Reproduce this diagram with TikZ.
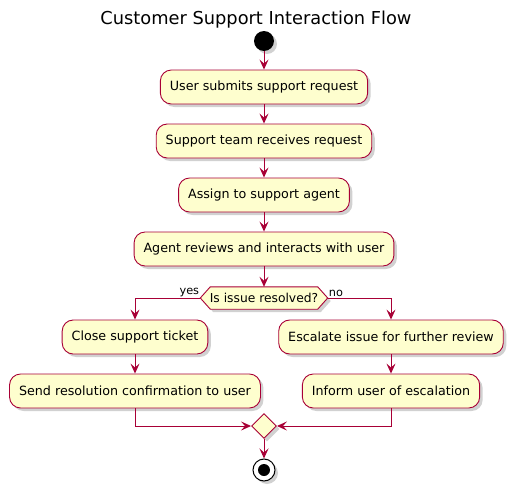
\documentclass[tikz,border=0pt]{standalone}
\usepackage{fontspec}
\setmainfont{DejaVu Sans}
\usetikzlibrary{shapes.geometric,shadows,arrows.meta}
\definecolor{pumlred}{HTML}{A80036}
\definecolor{pumlfill}{HTML}{FEFECE}
\pgfdeclarelayer{bg}
\pgfsetlayers{bg,main}
\tikzset{
  shad/.style={drop shadow={shadow xshift=3pt,shadow yshift=-3pt,opacity=0.3,fill=black!60}},
  actbox/.style={draw=pumlred,fill=pumlfill,line width=0.9pt,rounded corners=11pt,
    minimum height=34pt,inner xsep=9.5pt,font=\fontsize{12.7}{15}\selectfont,shad},
  arr/.style={draw=pumlred,line width=0.9pt,-{Stealth[length=10pt,width=9pt,inset=4pt]}},
  lbl/.style={font=\fontsize{11.3}{13}\selectfont,inner sep=1pt},
}
\begin{document}
\begin{tikzpicture}[x=1pt,y=-1pt]
\useasboundingbox (0,0) rectangle (512,490);
\node[font=\fontsize{17.8}{21}\selectfont] (title) at (256,20) {Customer Support Interaction Flow};
\node[circle,fill=black,minimum size=20pt,inner sep=0,shad] (start) at (264,41) {};
\node[actbox] (b1) at (264,87) {User submits support request};
\node[actbox] (b2) at (264,141) {Support team receives request};
\node[actbox] (b3) at (264,195) {Assign to support agent};
\node[actbox] (b4) at (264,249) {Agent reviews and interacts with user};
\node[minimum width=127pt,minimum height=22pt,inner sep=0,font=\fontsize{12.3}{14}\selectfont] (dec) at (264,298) {Is issue resolved?};
\begin{pgfonlayer}{bg}
\path[draw=pumlred,fill=pumlfill,line width=0.9pt,shad] (dec.west) -- ([xshift=10pt]dec.north west) -- ([xshift=-10pt]dec.north east) -- (dec.east) -- ([xshift=-10pt]dec.south east) -- ([xshift=10pt]dec.south west) -- cycle;
\end{pgfonlayer}
\node[actbox] (c1) at (135,337) {Close support ticket};
\node[actbox] (c2) at (135,391) {Send resolution confirmation to user};
\node[actbox] (e1) at (391,337) {Escalate issue for further review};
\node[actbox] (e2) at (391,391) {Inform user of escalation};
\node[diamond,draw=pumlred,fill=pumlfill,line width=0.9pt,minimum size=25pt,inner sep=0,shad] (m) at (264,426) {};
\node[circle,draw=black,fill=white,line width=1pt,minimum size=22pt,inner sep=0,shad] (stop) at (264,470) {};
\node[circle,fill=black,minimum size=12pt,inner sep=0] (stopin) at (264,470) {};
\draw[arr] (start) -- (b1);
\draw[arr] (b1) -- (b2);
\draw[arr] (b2) -- (b3);
\draw[arr] (b3) -- (b4);
\draw[arr] (b4) -- (dec.north);
\draw[arr] (dec.west) -| (c1);
\draw[arr] (dec.east) -| (e1);
\node[lbl,anchor=south east] (yes) at (dec.west) {yes};
\node[lbl,anchor=south west] (no) at (dec.east) {no};
\draw[arr] (c1) -- (c2);
\draw[arr] (e1) -- (e2);
\draw[arr] (c2) |- (m);
\draw[arr] (e2) |- (m);
\draw[arr] (m) -- (stop);
\end{tikzpicture}
\end{document}
